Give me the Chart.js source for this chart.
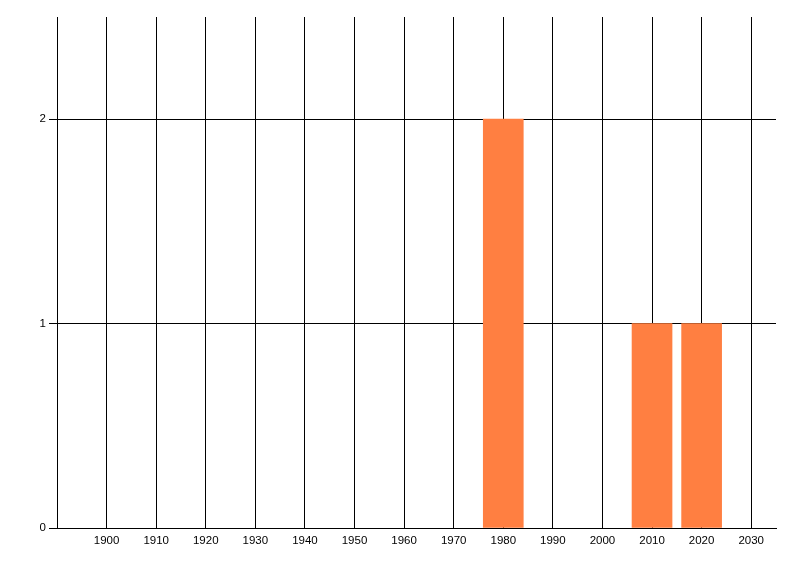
<!DOCTYPE html>
<html>
<head>
<meta charset="utf-8">
<script src="https://cdn.jsdelivr.net/npm/chart.js@4"></script>
<style>
html,body{margin:0;padding:0;background:#fff;}
#wrap{width:800px;height:576px;}
</style>
</head>
<body>
<div id="wrap"><canvas id="c" width="800" height="576"></canvas></div>
<script>
const years = [1980, 2010, 2020];
const counts = [2, 1, 1];
const xTicks = [1900, 1910, 1920, 1930, 1940, 1950, 1960, 1970, 1980, 1990, 2000, 2010, 2020, 2030];
const yTicks = [0, 1, 2];

const font = { family: "'Liberation Sans', Arial, sans-serif", size: 11.5 };

new Chart(document.getElementById('c'), {
  type: 'bar',
  data: {
    datasets: [{
      data: years.map((y, i) => ({ x: y, y: counts[i] })),
      backgroundColor: '#FF7F41',
      borderWidth: 0,
      barThickness: 40
    }]
  },
  options: {
    responsive: false,
    animation: false,
    layout: { padding: { left: 0, top: 17, right: 24, bottom: 0 } },
    plugins: { legend: { display: false }, tooltip: { enabled: false } },
    scales: {
      x: {
        type: 'linear',
        min: 1890,
        max: 2035,
        offset: false,
        afterBuildTicks: s => { s.ticks = xTicks.map(v => ({ value: v })); },
        afterFit: s => { s.height = 48; },
        grid: { color: '#000', lineWidth: 1, drawTicks: false, offset: false },
        border: { color: '#000', width: 1 },
        ticks: { color: '#000', font: font, padding: 6, maxRotation: 0, autoSkip: false, callback: v => String(v) }
      },
      y: {
        min: 0,
        max: 2.5,
        afterBuildTicks: s => { s.ticks = yTicks.map(v => ({ value: v })); },
        afterFit: s => { s.width = 57; },
        grid: { color: '#000', lineWidth: 1, drawTicks: true, tickLength: 8 },
        border: { color: '#000', width: 1 },
        ticks: { color: '#000', font: font, padding: 3, callback: v => String(v) }
      }
    }
  }
});
</script>
</body>
</html>
